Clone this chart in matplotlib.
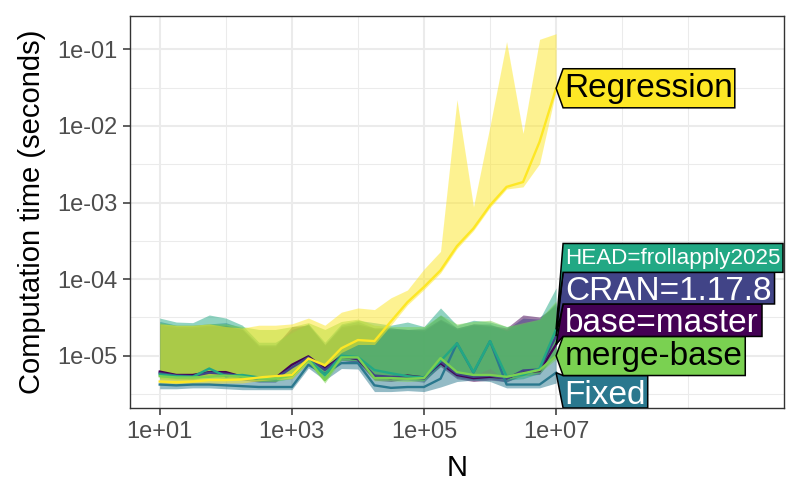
import matplotlib
matplotlib.use("Agg")
import matplotlib.pyplot as plt
from matplotlib.patches import Polygon
from matplotlib.textpath import TextPath
from matplotlib.font_manager import FontProperties
from matplotlib.transforms import IdentityTransform
from matplotlib.ticker import FixedLocator, FixedFormatter, NullFormatter

plt.rcParams['font.family'] = ['Liberation Sans', 'DejaVu Sans']

N = [10, 17.8, 31.6, 56.2, 100, 178, 316, 562, 1000, 1780, 3160, 5620,
     1e4, 1.78e4, 3.16e4, 5.62e4, 1e5, 1.78e5, 3.16e5, 5.62e5,
     1e6, 1.78e6, 3.16e6, 5.62e6, 1e7]

expr_names = ["base=master", "CRAN=1.17.8", "Fixed", "HEAD=frollapply2025",
              "merge-base", "Regression"]
expr_colors = ["#440154", "#414487", "#2A788E", "#22A884", "#7AD151", "#FDE725"]
text_colors = ["white", "white", "white", "white", "black", "black"]

# seconds: median, min, max for each expression
base_med = [6.2e-6, 5.6e-6, 5.6e-6, 6.1e-6, 6.1e-6, 5.3e-6, 5.1e-6, 5.1e-6, 7.6e-6, 9.8e-6, 6.8e-6, 9.8e-6,
            9.0e-6, 5.3e-6, 5.1e-6, 5.5e-6, 5.2e-6, 8.0e-6, 5.6e-6, 5.1e-6, 5.3e-6, 5.1e-6, 6.1e-6, 6.3e-6, 1.4e-5]
base_min = [5.6e-6, 5.1e-6, 5.1e-6, 5.5e-6, 5.5e-6, 4.8e-6, 4.6e-6, 4.6e-6, 6.8e-6, 8.8e-6, 6.1e-6, 8.8e-6,
            8.1e-6, 4.8e-6, 4.6e-6, 5.0e-6, 4.7e-6, 7.2e-6, 5.0e-6, 4.6e-6, 4.8e-6, 4.6e-6, 5.5e-6, 5.7e-6, 1.1e-5]
base_max = [2.6e-5, 2.4e-5, 2.4e-5, 2.5e-5, 2.5e-5, 2.2e-5, 1.35e-5, 1.35e-5, 2.4e-5, 2.5e-5, 1.4e-5, 2.4e-5,
            2.6e-5, 2.3e-5, 2.3e-5, 2.2e-5, 2.2e-5, 3.0e-5, 2.3e-5, 2.6e-5, 2.5e-5, 2.3e-5, 3.4e-5, 3.2e-5, 4.5e-5]

cran_med = [5.9e-6, 5.5e-6, 5.4e-6, 6.0e-6, 5.8e-6, 5.4e-6, 5.0e-6, 5.0e-6, 7.0e-6, 9.5e-6, 6.5e-6, 9.6e-6,
            9.2e-6, 5.5e-6, 5.3e-6, 5.3e-6, 5.0e-6, 8.4e-6, 5.8e-6, 5.3e-6, 5.5e-6, 5.0e-6, 6.4e-6, 6.6e-6, 1.8e-5]
cran_min = [5.3e-6, 5.0e-6, 4.9e-6, 5.4e-6, 5.2e-6, 4.9e-6, 4.5e-6, 4.5e-6, 6.3e-6, 8.6e-6, 5.9e-6, 8.6e-6,
            8.3e-6, 5.0e-6, 4.8e-6, 4.8e-6, 4.5e-6, 7.6e-6, 5.2e-6, 4.8e-6, 5.0e-6, 4.5e-6, 5.8e-6, 5.9e-6, 1.4e-5]
cran_max = [2.5e-5, 2.3e-5, 2.3e-5, 2.4e-5, 2.4e-5, 2.2e-5, 1.3e-5, 1.3e-5, 2.2e-5, 2.5e-5, 1.35e-5, 2.3e-5,
            2.5e-5, 2.2e-5, 2.2e-5, 2.2e-5, 2.1e-5, 2.9e-5, 2.2e-5, 2.5e-5, 2.4e-5, 2.2e-5, 3.1e-5, 3.0e-5, 4.8e-5]

fixed_med = [4.2e-6, 4.1e-6, 4.2e-6, 4.2e-6, 4.1e-6, 4.0e-6, 3.9e-6, 3.9e-6, 3.9e-6, 7.6e-6, 5.8e-6, 8.0e-6,
             8.0e-6, 4.1e-6, 3.8e-6, 3.9e-6, 3.9e-6, 5.0e-6, 1.45e-5, 6.0e-6, 1.55e-5, 4.2e-6, 4.2e-6, 4.2e-6, 6.0e-6]
fixed_min = [3.7e-6, 3.7e-6, 3.8e-6, 3.8e-6, 3.7e-6, 3.6e-6, 3.6e-6, 3.6e-6, 3.6e-6, 6.9e-6, 4.8e-6, 6.8e-6,
             6.7e-6, 3.4e-6, 3.4e-6, 3.5e-6, 3.4e-6, 3.9e-6, 4.6e-6, 4.8e-6, 4.6e-6, 3.8e-6, 3.8e-6, 3.8e-6, 4.4e-6]
fixed_max = [2.8e-5, 2.5e-5, 2.5e-5, 2.6e-5, 2.7e-5, 2.3e-5, 1.4e-5, 1.4e-5, 2.2e-5, 2.6e-5, 1.4e-5, 2.5e-5,
             2.8e-5, 2.3e-5, 2.3e-5, 2.2e-5, 2.3e-5, 3.4e-5, 2.3e-5, 2.6e-5, 2.6e-5, 2.1e-5, 2.6e-5, 2.9e-5, 5.0e-5]

head_med = [5.7e-6, 5.4e-6, 5.3e-6, 6.8e-6, 5.4e-6, 5.6e-6, 5.2e-6, 5.1e-6, 5.6e-6, 9.0e-6, 5.6e-6, 1.0e-5,
            9.6e-6, 6.5e-6, 5.9e-6, 5.4e-6, 5.2e-6, 8.5e-6, 1.45e-5, 6.1e-6, 1.55e-5, 5.4e-6, 5.6e-6, 6.8e-6, 2.2e-5]
head_min = [5.0e-6, 4.9e-6, 4.9e-6, 5.6e-6, 4.9e-6, 5.0e-6, 4.7e-6, 4.7e-6, 5.0e-6, 8.2e-6, 5.0e-6, 8.8e-6,
            8.6e-6, 5.6e-6, 5.2e-6, 4.9e-6, 4.7e-6, 7.4e-6, 6.5e-6, 5.5e-6, 6.8e-6, 4.8e-6, 5.0e-6, 5.9e-6, 1.0e-5]
head_max = [3.1e-5, 2.75e-5, 2.7e-5, 3.4e-5, 3.1e-5, 2.5e-5, 1.5e-5, 1.5e-5, 2.0e-5, 2.6e-5, 1.5e-5, 2.6e-5,
            2.9e-5, 2.7e-5, 2.5e-5, 2.75e-5, 2.4e-5, 4.2e-5, 2.5e-5, 2.9e-5, 2.75e-5, 2.4e-5, 2.6e-5, 3.0e-5, 7.7e-5]

merge_med = [5.4e-6, 5.2e-6, 5.2e-6, 5.3e-6, 5.5e-6, 5.3e-6, 5.0e-6, 5.0e-6, 5.5e-6, 8.8e-6, 4.8e-6, 9.5e-6,
             9.5e-6, 5.1e-6, 5.1e-6, 5.0e-6, 5.1e-6, 9.3e-6, 6.1e-6, 5.6e-6, 5.6e-6, 5.3e-6, 5.9e-6, 6.5e-6, 1.0e-5]
merge_min = [5.0e-6, 4.8e-6, 4.8e-6, 4.9e-6, 5.1e-6, 4.9e-6, 4.6e-6, 4.6e-6, 5.1e-6, 8.1e-6, 4.4e-6, 8.7e-6,
             8.7e-6, 4.7e-6, 4.7e-6, 4.6e-6, 4.7e-6, 8.5e-6, 5.6e-6, 5.2e-6, 5.2e-6, 4.9e-6, 5.4e-6, 6.0e-6, 9.0e-6]
merge_max = [2.7e-5, 2.5e-5, 2.5e-5, 2.6e-5, 2.6e-5, 2.4e-5, 2.2e-5, 2.2e-5, 2.4e-5, 2.7e-5, 2.2e-5, 2.8e-5,
             3.0e-5, 2.5e-5, 2.4e-5, 2.4e-5, 2.4e-5, 3.4e-5, 2.6e-5, 2.8e-5, 2.9e-5, 2.4e-5, 2.7e-5, 3.0e-5, 5.2e-5]

regr_med = [4.6e-6, 4.5e-6, 4.6e-6, 4.8e-6, 4.8e-6, 4.9e-6, 5.2e-6, 5.4e-6, 5.6e-6, 9.2e-6, 7.5e-6, 1.25e-5,
            1.6e-5, 1.55e-5, 2.8e-5, 5.0e-5, 7.9e-5, 1.3e-4, 2.7e-4, 4.6e-4, 9.2e-4, 1.6e-3, 1.85e-3, 6.2e-3, 3.1e-2]
regr_min = [4.2e-6, 4.1e-6, 4.2e-6, 4.3e-6, 4.4e-6, 4.4e-6, 4.7e-6, 4.9e-6, 5.0e-6, 8.3e-6, 7.0e-6, 1.1e-5,
            1.4e-5, 1.4e-5, 2.5e-5, 4.6e-5, 7.3e-5, 1.2e-4, 2.5e-4, 4.3e-4, 8.6e-4, 1.5e-3, 1.6e-3, 3.2e-3, 2.9e-2]
regr_max = [2.6e-5, 2.5e-5, 2.5e-5, 2.6e-5, 2.4e-5, 2.3e-5, 2.5e-5, 2.5e-5, 2.6e-5, 3.1e-5, 2.5e-5, 3.7e-5,
            4.2e-5, 4.0e-5, 5.7e-5, 7.2e-5, 1.35e-4, 2.3e-4, 2.2e-2, 8.8e-4, 1.0e-2, 1.26e-1, 8.0e-3, 1.35e-1, 1.6e-1]

medians = [base_med, cran_med, fixed_med, head_med, merge_med, regr_med]
mins = [base_min, cran_min, fixed_min, head_min, merge_min, regr_min]
maxs = [base_max, cran_max, fixed_max, head_max, merge_max, regr_max]

x_major = [1e1, 1e3, 1e5, 1e7]
x_labels = ["1e+01", "1e+03", "1e+05", "1e+07"]
y_major = [1e-5, 1e-4, 1e-3, 1e-2, 1e-1]
y_labels = ["1e-05", "1e-04", "1e-03", "1e-02", "1e-01"]

fig = plt.figure(figsize=(8, 5), dpi=100)
ax = fig.add_axes([0.1625, 0.184, 0.8175, 0.7846])
ax.set_xscale('log')
ax.set_yscale('log')
ax.set_xlim(10 ** 0.55, 10 ** 10.45)
ax.set_ylim(10 ** -5.683, 10 ** -0.561)

ax.xaxis.set_major_locator(FixedLocator(x_major))
ax.xaxis.set_major_formatter(FixedFormatter(x_labels))
ax.xaxis.set_minor_locator(FixedLocator([1e2, 1e4, 1e6, 1e8, 1e9]))
ax.xaxis.set_minor_formatter(NullFormatter())
ax.yaxis.set_major_locator(FixedLocator(y_major))
ax.yaxis.set_major_formatter(FixedFormatter(y_labels))
ax.yaxis.set_minor_locator(FixedLocator([10 ** (e + 0.5) for e in range(-6, -1)]))
ax.yaxis.set_minor_formatter(NullFormatter())

ax.grid(which='major', color='#EBEBEB', lw=1.5)
ax.grid(which='minor', color='#EBEBEB', lw=0.75)
ax.set_axisbelow(True)
ax.tick_params(which='major', length=5, width=1.1, color='#333333',
               labelsize=17, labelcolor='#4D4D4D', pad=4)
ax.tick_params(which='minor', length=0)
for sp in ax.spines.values():
    sp.set_color('#333333')
    sp.set_linewidth(1.0)

ax.set_xlabel("N", fontsize=21, labelpad=8)
ax.set_ylabel("Computation time (seconds)", fontsize=21, labelpad=8)

for i in range(len(expr_names)):
    ax.fill_between(N, mins[i], maxs[i], color=expr_colors[i], alpha=0.5, lw=0)
for i in range(len(expr_names)):
    ax.plot(N, medians[i], color=expr_colors[i], lw=1.7, solid_joinstyle='round')

# direct labels: polygon boxes pointing at the last median
px = fig.dpi / 72.0
padx, pady = 4, 4
p_left, p_bottom, p_right, p_top = ax.bbox.x0, ax.bbox.y0, ax.bbox.x1, ax.bbox.y1
items = []
for i, name in enumerate(expr_names):
    tx, ty = ax.transData.transform((N[-1], medians[i][-1]))
    size = 24
    ext = TextPath((0, 0), name, size=size, prop=FontProperties(family='Liberation Sans')).get_extents()
    x0 = tx + 7
    room = p_right - x0 - 2 * padx - 1
    if ext.width * px > room:
        size = size * room / (ext.width * px)
        ext = TextPath((0, 0), name, size=size, prop=FontProperties(family='Liberation Sans')).get_extents()
    items.append(dict(i=i, tx=tx, ty=ty, x0=x0, size=size, ext=ext,
                      w=ext.width * px + 2 * padx, h=ext.height * px + 2 * pady))

items.sort(key=lambda d: d['ty'])
groups = [[d] for d in items]
while True:
    for g in groups:
        H = sum(d['h'] for d in g)
        center = sum(d['ty'] for d in g) / len(g)
        b = min(max(center - H / 2, p_bottom), p_top - H)
        for d in g:
            d['bottom'] = b
            b += d['h']
    merged = False
    for j in range(len(groups) - 1):
        if groups[j][-1]['bottom'] + groups[j][-1]['h'] > groups[j + 1][0]['bottom']:
            groups[j] = groups[j] + groups.pop(j + 1)
            merged = True
            break
    if not merged:
        break

for d in items:
    i = d['i']
    b, t = d['bottom'], d['bottom'] + d['h']
    x0, x1 = d['x0'], d['x0'] + d['w']
    poly = Polygon([(d['tx'], d['ty']), (x0, t), (x1, t), (x1, b), (x0, b)], closed=True,
                   facecolor=expr_colors[i], edgecolor='black', lw=1.1,
                   transform=IdentityTransform(), zorder=5)
    ax.add_patch(poly)
    ext = d['ext']
    ax.text(x0 + padx - ext.x0 * px, b + pady - ext.y0 * px, expr_names[i],
            transform=IdentityTransform(), fontsize=d['size'], family='Liberation Sans',
            color=text_colors[i], ha='left', va='baseline', zorder=6, clip_on=True)

fig.savefig("out.png", dpi=100)
